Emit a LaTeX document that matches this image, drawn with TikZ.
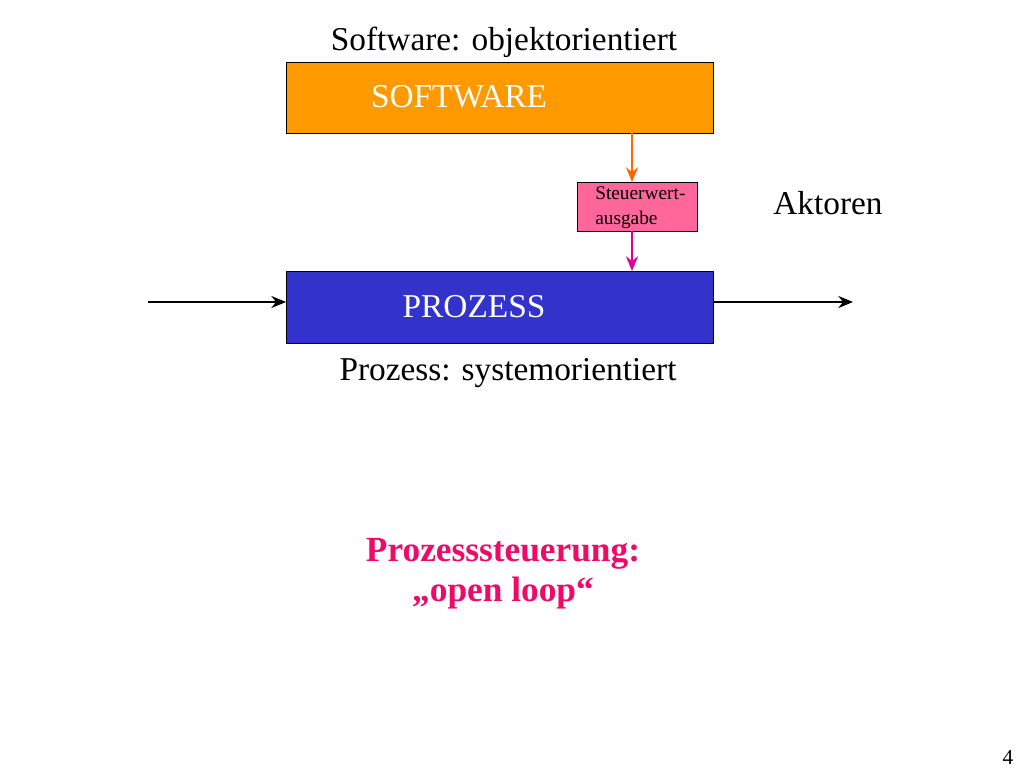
\documentclass[tikz,border=0pt]{standalone}
\usepackage{fontspec}
\setmainfont{Liberation Serif}
\usetikzlibrary{arrows.meta}
\definecolor{swOrange}{HTML}{FF9900}
\definecolor{swPink}{HTML}{FF6699}
\definecolor{pzBlue}{HTML}{3333CC}
\definecolor{lineOrange}{HTML}{FF6600}
\definecolor{lineMagenta}{HTML}{E0009A}
\definecolor{titleRed}{HTML}{EE0A66}
\tikzset{
  blockbox/.style={draw=black,line width=0.6pt,inner sep=0pt},
  bigtext/.style={font=\fontsize{25}{30}\selectfont},
  flowarrow/.style={line width=1.5pt,-{Stealth[length=11pt,width=9pt]}},
}
\begin{document}
\begin{tikzpicture}[x=0.75pt,y=-0.75pt]
			\useasboundingbox (0,0) rectangle (1024,768);
			% boxes
			\draw [blockbox,fill=swOrange] (286,62) rectangle (713,133);
			\draw [blockbox,fill=swPink] (577,182) rectangle (697,231);
			\draw [blockbox,fill=pzBlue] (286,271) rectangle (713,343);
			\coordinate (SWb) at (632,133);
			\coordinate (STt) at (632,182);
			\coordinate (STb) at (632,231);
			\coordinate (PZt) at (632,271);
			\coordinate (PZw) at (286,302);
			\coordinate (PZe) at (713,302);
			\coordinate (IN) at (148,302);
			\coordinate (OUT) at (853,302);
			% labels
			\node [bigtext,text=white] (sw) at (459,97) {SOFTWARE};
			\node [bigtext,text=white] (pz) at (474,307) {PROZESS};
			\node [font=\fontsize{14.5}{19}\selectfont,align=left,anchor=north west,inner sep=0pt] (st) at (595,186) {Steuerwert-\\ausgabe};
			\node [bigtext] (swt) at (504,42) {Software: objektorientiert};
			\node [bigtext] (pzt) at (508,373) {Prozess: systemorientiert};
			\node [bigtext] (akt) at (828,203) {Aktoren};
			\node [text=titleRed,font=\fontsize{26.5}{30}\selectfont\bfseries,align=center] (psl) at (503,574) {Prozesssteuerung:\\„open loop“};
			\node [font=\fontsize{16}{18}\selectfont] (pg) at (1008,757) {4};
			% connectors
			\draw [line width=1.5pt,lineOrange,-{Stealth[length=11pt,width=9pt]}] (SWb) -- (STt);
			\draw [line width=1.5pt,lineMagenta,-{Stealth[length=11pt,width=9pt]}] (STb) -- (PZt);
			\draw [flowarrow] (IN) -- (PZw);
			\draw [flowarrow] (PZe) -- (OUT);
		\end{tikzpicture}
\end{document}
